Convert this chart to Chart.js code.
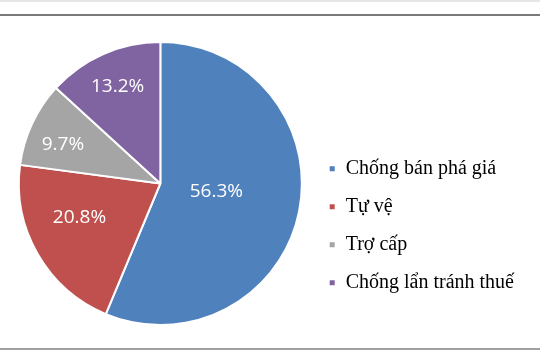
<!DOCTYPE html>
<html lang="vi">
<head>
    <meta charset="UTF-8">
    <title>Pie chart</title>
    <script src="https://cdn.jsdelivr.net/npm/chart.js@4.4.0/dist/chart.umd.min.js"></script>
    <style>
        html, body {
            margin: 0;
            padding: 0;
            background: #fff;
        }
        .topstrip {
            position: absolute;
            left: 0; top: 0;
            width: 540px; height: 2px;
            background: #e6e6e6;
        }
        .frame {
            position: absolute;
            left: 0; top: 14px;
            width: 540px; height: 332px;
            border-top: 2px solid #7a7a7a;
            border-bottom: 2px solid #a0a0a0;
        }
        .wrap {
            position: absolute;
            left: 0; top: 0;
            width: 540px; height: 360px;
        }
    </style>
</head>
<body>
    <div class="topstrip"></div>
    <div class="frame"></div>
    <div class="wrap"><canvas id="pie"></canvas></div>

    <script>
        const categories = ['Chống bán phá giá', 'Tự vệ', 'Trợ cấp', 'Chống lẩn tránh thuế'];
        const shares = [56.3, 20.8, 9.7, 13.2];
        const sliceColors = ['#4F81BD', '#C0504D', '#A5A5A5', '#8064A2'];

        // where each percentage label sits: fraction of the radius, and how far along the slice's sweep
        const labelRadius = [0.40, 0.62, 0.74, 0.75];
        const labelSweep = [0.484, 0.594, 0.40, 0.50];

        const sliceLabels = {
            id: 'sliceLabels',
            afterDatasetsDraw(chart) {
                const ctx = chart.ctx;
                const meta = chart.getDatasetMeta(0);
                ctx.save();
                ctx.fillStyle = '#fff';
                ctx.font = '19px "Open Sans", sans-serif';
                ctx.textAlign = 'center';
                ctx.textBaseline = 'middle';
                meta.data.forEach((arc, i) => {
                    const a = arc.startAngle + (arc.endAngle - arc.startAngle) * labelSweep[i];
                    const r = arc.outerRadius * labelRadius[i];
                    ctx.fillText(shares[i].toFixed(1) + '%', arc.x + Math.cos(a) * r, arc.y + Math.sin(a) * r);
                });
                ctx.restore();
            }
        };

        new Chart(document.getElementById('pie'), {
            type: 'pie',
            data: {
                labels: categories,
                datasets: [{
                    data: shares,
                    backgroundColor: sliceColors,
                    borderColor: '#fff',
                    borderWidth: 2
                }]
            },
            options: {
                responsive: true,
                maintainAspectRatio: false,
                animation: false,
                layout: {
                    padding: { top: 41, bottom: 34, left: 10, right: 16 }
                },
                plugins: {
                    tooltip: { enabled: false },
                    legend: {
                        position: 'right',
                        align: 'center',
                        // empty title just pushes the items down a bit
                        title: {
                            display: true,
                            text: ' ',
                            font: { size: 2 },
                            padding: { top: 82, bottom: 0 }
                        },
                        labels: {
                            boxWidth: 7,
                            boxHeight: 7,
                            padding: 18,
                            color: '#000',
                            font: { family: '"Liberation Serif", serif', size: 20 }
                        }
                    }
                }
            },
            plugins: [sliceLabels]
        });
    </script>
</body>
</html>
